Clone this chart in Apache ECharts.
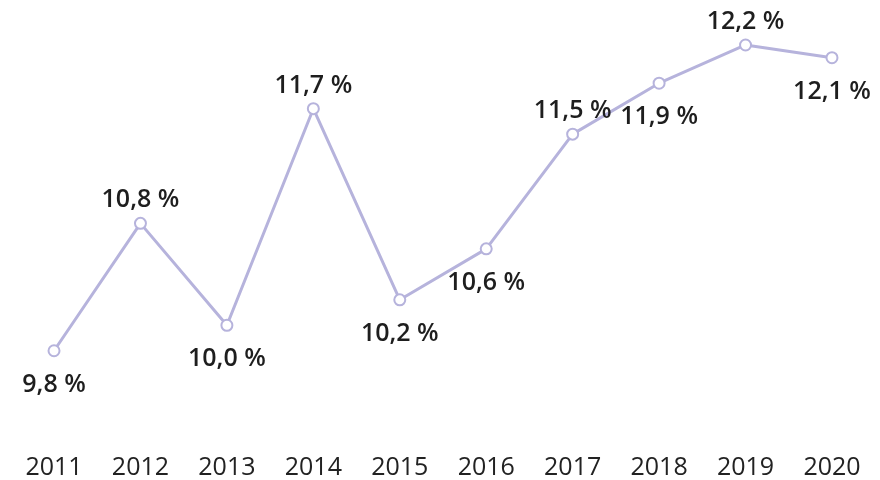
<!DOCTYPE html>
<html>
<head>
<meta charset="utf-8">
<script src="https://cdn.jsdelivr.net/npm/echarts@6/dist/echarts.min.js"></script>
<style>html,body{margin:0;padding:0;background:#fff;}#c{width:880px;height:480px;}</style>
</head>
<body>
<div id="c"></div>
<script>
var years = ['2011','2012','2013','2014','2015','2016','2017','2018','2019','2020'];
var values = [9.8, 10.8, 10.0, 11.7, 10.2, 10.6, 11.5, 11.9, 12.2, 12.1];
var labelPos = ['bottom','top','bottom','top','bottom','bottom','top','bottom','top','bottom'];

var chart = echarts.init(document.getElementById('c'));
var data = values.map(function (v, i) {
  var up = labelPos[i] === 'top';
  return { value: v, label: { position: labelPos[i], distance: up ? 4 : 15 } };
});
chart.setOption({
  animation: false,
  grid: { left: 10.8, right: 4.8, top: 6.75, bottom: 90.75 },
  xAxis: {
    type: 'category',
    data: years,
    boundaryGap: true,
    axisLine: { show: false },
    axisTick: { show: false },
    axisLabel: { margin: 66, color: '#222', fontFamily: 'Open Sans', fontSize: 25 }
  },
  yAxis: {
    type: 'value', min: 9.5, max: 12.5,
    show: false, splitLine: { show: false }
  },
  series: [{
    type: 'line',
    data: data,
    symbol: 'emptyCircle',
    symbolSize: 11,
    lineStyle: { color: '#b6b3dc', width: 3 },
    itemStyle: { color: '#b6b3dc', borderWidth: 2.5 },
    label: {
      show: true,
      color: '#1e1e1e',
      fontFamily: 'Open Sans',
      fontWeight: 600,
      fontSize: 25,
      formatter: function (p) { return p.value.toFixed(1).replace('.', ',') + ' %'; }
    }
  }]
});
</script>
</body>
</html>
